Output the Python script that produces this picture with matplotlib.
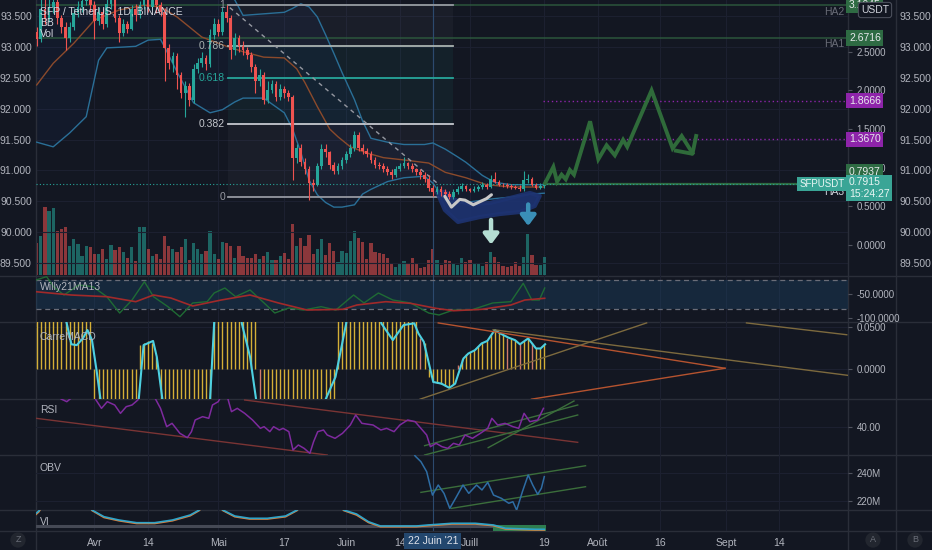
import matplotlib
matplotlib.use('Agg')
import matplotlib.pyplot as plt
from matplotlib.lines import Line2D
from matplotlib.patches import Polygon
from matplotlib.transforms import blended_transform_factory

plt.rcParams['font.family'] = ['Liberation Sans', 'DejaVu Sans']

# ---------------- data: day 0 = 18 Mar 2021, daily candles up to 19 Jul 2021 ----------------
days = list(range(124))
opens = [2.76, 2.66, 3.05, 2.92, 3.08, 3.14, 2.94, 2.82, 2.68, 2.82, 3.00, 3.08, 3.16, 3.22, 3.10, 2.90, 3.02, 2.86, 3.12, 3.20,
         2.94, 2.74, 2.86, 2.80, 3.05, 2.98, 3.10, 3.18, 3.08, 3.18, 3.10, 3.02, 2.55, 2.36, 2.44, 2.20, 1.96, 2.06, 1.88, 2.28,
         2.36, 2.42, 2.34, 2.72, 2.86, 2.76, 3.02, 2.94, 2.52, 2.68, 2.58, 2.52, 2.46, 2.30, 2.12, 2.20, 1.88, 2.00, 2.08, 1.92,
         2.02, 1.96, 1.92, 1.12, 1.26, 1.08, 0.98, 0.80, 0.78, 1.02, 1.24, 1.20, 1.04, 0.96, 1.02, 1.10, 1.18, 1.26, 1.42, 1.26,
         1.22, 1.18, 1.10, 1.04, 1.02, 0.98, 0.94, 0.90, 0.98, 1.02, 1.06, 1.02, 0.98, 0.94, 0.90, 0.86, 0.74, 0.68, 0.72, 0.68,
         0.66, 0.62, 0.68, 0.72, 0.76, 0.72, 0.70, 0.72, 0.75, 0.78, 0.75, 0.86, 0.82, 0.78, 0.77, 0.76, 0.75, 0.74, 0.72, 0.84,
         0.86, 0.78, 0.74, 0.76]
closes = [2.66, 3.05, 2.92, 3.08, 3.14, 2.94, 2.82, 2.68, 2.82, 3.00, 3.08, 3.16, 3.22, 3.10, 2.90, 3.02, 2.86, 3.12, 3.20, 2.94,
          2.74, 2.86, 2.80, 3.05, 2.98, 3.10, 3.18, 3.08, 3.18, 3.10, 3.02, 2.55, 2.36, 2.44, 2.20, 1.96, 2.06, 1.88, 2.28, 2.36,
          2.42, 2.34, 2.72, 2.86, 2.76, 3.02, 2.94, 2.52, 2.68, 2.58, 2.52, 2.46, 2.30, 2.12, 2.20, 1.88, 2.00, 2.08, 1.92, 2.02,
          1.96, 1.92, 1.12, 1.26, 1.08, 0.98, 0.80, 0.78, 1.02, 1.24, 1.20, 1.04, 0.96, 1.02, 1.10, 1.18, 1.26, 1.42, 1.26, 1.22,
          1.18, 1.10, 1.04, 1.02, 0.98, 0.94, 0.90, 0.98, 1.02, 1.06, 1.02, 0.98, 0.94, 0.90, 0.86, 0.74, 0.68, 0.72, 0.68, 0.66,
          0.62, 0.68, 0.72, 0.76, 0.72, 0.70, 0.72, 0.75, 0.78, 0.75, 0.86, 0.82, 0.78, 0.77, 0.76, 0.75, 0.74, 0.72, 0.84, 0.86,
          0.78, 0.74, 0.76, 0.79]
highs = [2.82, 3.18, 3.20, 3.22, 3.28, 3.18, 2.98, 2.88, 2.88, 3.06, 3.15, 3.25, 3.30, 3.26, 3.15, 3.08, 3.06, 3.20, 3.30, 3.24,
         2.98, 2.92, 2.90, 3.10, 3.12, 3.16, 3.26, 3.22, 3.26, 3.24, 3.14, 3.06, 2.60, 2.50, 2.48, 2.24, 2.12, 2.10, 2.34, 2.42,
         2.50, 2.46, 2.80, 2.94, 2.92, 3.08, 3.10, 2.98, 2.74, 2.72, 2.64, 2.56, 2.50, 2.34, 2.28, 2.24, 2.12, 2.14, 2.12, 2.08,
         2.06, 2.00, 1.94, 1.30, 1.30, 1.12, 1.02, 0.86, 1.06, 1.30, 1.30, 1.22, 1.08, 1.06, 1.14, 1.22, 1.30, 1.48, 1.46, 1.30,
         1.26, 1.22, 1.14, 1.08, 1.06, 1.02, 0.98, 1.02, 1.06, 1.14, 1.08, 1.06, 1.00, 0.98, 0.94, 0.90, 0.78, 0.76, 0.76, 0.72,
         0.70, 0.72, 0.76, 0.80, 0.78, 0.74, 0.76, 0.78, 0.82, 0.80, 0.90, 0.94, 0.84, 0.80, 0.80, 0.79, 0.78, 0.78, 0.96, 0.92,
         0.88, 0.80, 0.80, 0.84]
lows = [2.58, 2.62, 2.86, 2.88, 3.00, 2.86, 2.74, 2.52, 2.62, 2.78, 2.95, 3.02, 3.10, 3.02, 2.66, 2.84, 2.80, 2.82, 3.05, 2.88,
        2.62, 2.70, 2.74, 2.78, 2.90, 2.94, 3.05, 3.02, 3.04, 3.00, 2.96, 2.12, 2.28, 2.24, 2.02, 1.90, 1.66, 1.80, 1.84, 2.22,
        2.30, 2.26, 2.30, 2.66, 2.70, 2.72, 2.88, 2.40, 2.46, 2.50, 2.46, 2.40, 2.24, 1.96, 2.06, 1.82, 1.84, 1.96, 1.86, 1.88,
        1.90, 1.86, 0.84, 1.06, 1.02, 0.92, 0.58, 0.70, 0.76, 0.98, 1.14, 0.98, 0.92, 0.92, 0.98, 1.06, 1.14, 1.22, 1.22, 1.18,
        1.14, 1.06, 1.00, 0.98, 0.94, 0.90, 0.86, 0.88, 0.96, 1.00, 0.98, 0.94, 0.90, 0.86, 0.82, 0.70, 0.64, 0.66, 0.64, 0.62,
        0.60, 0.60, 0.66, 0.70, 0.70, 0.68, 0.68, 0.70, 0.73, 0.72, 0.74, 0.80, 0.76, 0.75, 0.74, 0.73, 0.72, 0.70, 0.70, 0.80,
        0.76, 0.72, 0.72, 0.74]
volume = [32, 39, 68, 64, 67, 44, 46, 48, 29, 36, 31, 19, 29, 28, 21, 21, 26, 16, 30, 25,
          28, 23, 17, 28, 14, 48, 48, 26, 19, 21, 16, 39, 29, 26, 23, 28, 36, 15, 32, 26,
          21, 24, 44, 21, 16, 33, 32, 29, 17, 29, 19, 17, 17, 21, 16, 19, 23, 15, 15, 19,
          22, 16, 51, 29, 37, 29, 40, 21, 26, 36, 20, 32, 24, 13, 24, 22, 34, 44, 37, 33,
          16, 32, 23, 22, 21, 17, 12, 8, 11, 14, 11, 17, 11, 7, 8, 15, 26, 15, 10, 15,
          14, 11, 10, 17, 13, 15, 11, 11, 9, 13, 23, 18, 13, 9, 8, 9, 13, 9, 18, 41,
          20, 10, 10, 18]

# Bollinger bands and basis
bb_day = [0, 4, 8, 12, 15, 17, 21, 24, 27, 30, 31, 34, 38, 42, 45, 48, 50, 55, 60, 62, 64, 66, 68, 70, 72, 74, 77, 79, 81, 85,
          89, 94, 96, 99, 102, 104, 108, 111, 115, 120, 123]
bb_upper = [3.50, 3.52, 3.55, 3.55, 3.55, 3.55, 3.55, 3.52, 3.50, 3.48, 3.48, 3.45, 3.42, 3.35, 3.28, 3.17, 2.97, 2.99, 3.01,
            3.06, 3.12, 3.08, 2.95, 2.72, 2.48, 2.23, 1.88, 1.60, 1.38, 1.33, 1.30, 1.30, 1.32, 1.24, 1.14, 1.07, 0.90, 0.81,
            0.78, 0.78, 0.78]
bb_lower = [1.33, 1.27, 1.45, 1.66, 2.39, 2.55, 2.56, 2.57, 2.65, 2.66, 2.56, 2.24, 1.84, 1.71, 1.75, 1.85, 1.90, 1.90, 1.71,
            1.50, 1.20, 0.84, 0.65, 0.55, 0.49, 0.49, 0.52, 0.66, 0.72, 0.82, 0.87, 0.89, 0.80, 0.58, 0.54, 0.55, 0.58, 0.60,
            0.62, 0.66, 0.67]
ma_day = [0, 4, 9, 14, 20, 26, 30, 34, 37, 40, 43, 46, 50, 55, 60, 63, 65, 68, 71, 73, 76, 80, 84, 89, 95, 99, 104, 109, 115, 123]
ma_val = [2.07, 2.35, 2.61, 2.91, 3.04, 3.10, 3.08, 2.95, 2.82, 2.69, 2.63, 2.57, 2.50, 2.43, 2.42, 2.28, 2.10, 1.79, 1.50, 1.40,
          1.27, 1.19, 1.13, 1.10, 1.06, 0.94, 0.87, 0.78, 0.75, 0.75]

# fibonacci retracement (high on 3 May, low on 22-26 Jun)
fib_start, fib_end = 46.4, 100.9
fib_high, fib_low = 3.105, 0.621
fib_levels = [1, 0.786, 0.618, 0.382, 0]
trend_day = [46.8, 97.5]
trend_val = [3.07, 0.78]

# horizontal levels on the right scale
ha_names = ['HA2', 'HA1', 'HA3']
ha_prices = [3.1045, 2.6716, 0.7937]
purple_prices = [1.8666, 1.3670]
last_price = 0.7915

# hand drawn projection and marks
proj_day = [123.2, 125.2, 126.1, 127.2, 128.2, 129.2, 130.2, 134.1, 136.1, 138.1, 140.1, 142.1, 143.1, 149.0, 154.1, 156.3, 158.9]
proj_val = [0.80, 1.01, 0.82, 0.91, 0.85, 0.97, 0.91, 1.60, 1.11, 1.29, 1.16, 1.36, 1.27, 2.00, 1.25, 1.41, 1.19]
tail_day = [154.9, 158.9, 159.8]
tail_val = [1.22, 1.18, 1.41]
squig_day = [98.9, 100.5, 102.5, 103.8, 105.8, 107.4, 109.0, 110.2]
squig_val = [0.63, 0.49, 0.59, 0.58, 0.52, 0.56, 0.60, 0.65]
blob_day = [97.0, 98.9, 102.1, 107.4, 112.3, 117.1, 120.7, 121.9, 119.5, 114.7, 109.8, 105.0, 101.4, 98.9]
blob_val = [0.686, 0.453, 0.298, 0.362, 0.401, 0.427, 0.505, 0.634, 0.673, 0.608, 0.543, 0.530, 0.582, 0.686]

# Williams %R (21) and its MA (13)
willy_day = [-0.2, 2.4, 4.1, 6.6, 10.2, 13.6, 17.0, 20.1, 23.1, 26.1, 28.3, 31.8, 34.7, 37.8, 41.3, 43.0, 45.6, 48.2, 51.7, 55.1,
             57.7, 61.1, 64.7, 68.9, 72.5, 76.8, 79.3, 82.8, 86.3, 90.6, 95.0, 97.5, 101.0, 105.3, 110.5, 114.9, 117.9, 120.0,
             121.8, 123.1]
willy_val = [-20.2, -13.3, -34.2, -51.5, -30.6, -34.2, -55, -89, -61.9, -23.8, -55, -75.8, -96.7, -68.1, -65.4, -47.3, -36.9,
             -55, -41, -68.1, -89, -78.5, -82.7, -75.8, -82.7, -51.5, -68.1, -47.3, -61.9, -68.1, -89, -93.1, -82.7, -82.7,
             -68.1, -65.4, -27.1, -61.9, -61.9, -36.9]
wma_day = [-0.2, 8.4, 17.0, 24.0, 28.3, 32.5, 37.8, 44.7, 51.7, 58.6, 65.5, 74.2, 77.6, 84.6, 90.6, 96.7, 101.0, 107.9, 114.9,
           118.3, 123.1]
wma_val = [-44.6, -51.5, -55, -65.4, -51.5, -57.7, -74.4, -61.9, -51.5, -68.1, -82.7, -81.3, -72.3, -65.4, -68.8, -79.2, -84.2,
           -81.3, -72.3, -61.9, -58.3]

# CarreMACD histogram (daily) and line
macd_hist = [0.06, 0.06, 0.06, 0.06, 0.06, 0.06, 0.06, 0.06, 0.06, 0.06, 0.06, 0.06, 0.06, 0.06,
             -0.045, -0.045, -0.045, -0.045, -0.045, -0.045, -0.045, -0.045, -0.045, -0.045, -0.045,
             0.028, 0.030, 0.033, 0.030, 0.014,
             -0.045, -0.045, -0.045, -0.045, -0.045, -0.045, -0.045, -0.045, -0.045, -0.045, -0.045, -0.045, -0.045,
             0.06, 0.06, 0.06, 0.06, 0.06, 0.06, 0.06, 0.06, 0.06, 0.06, 0.06,
             -0.045, -0.045, -0.045, -0.045, -0.045, -0.045, -0.045, -0.045, -0.045, -0.045, -0.045, -0.045, -0.045,
             -0.045, -0.045, -0.045, -0.045, -0.045, -0.045,
             0.06, 0.06, 0.06, 0.06, 0.06, 0.06, 0.06, 0.06, 0.06, 0.06, 0.06, 0.06, 0.06, 0.06, 0.06, 0.06, 0.06, 0.06,
             0.06, 0.06, 0.036, 0.030,
             -0.010, -0.016, -0.017, -0.018, -0.021, -0.023, -0.018,
             0.004, 0.012, 0.017, 0.020, 0.022, 0.027, 0.031, 0.033, 0.040, 0.046, 0.042, 0.040, 0.037, 0.036, 0.034,
             0.030, 0.033, 0.036, 0.030, 0.024, 0.024, 0.029]
macd_day = [-0.2, 6.5, 7.1, 8.4, 9.7, 11.2, 12.3, 13.4, 14.5, 15.5, 16.2, 24.0, 24.7, 25.9, 28.2, 29.1, 30.5, 31.2, 41.3, 42.0,
            43.0, 43.6, 49.1, 49.7, 51.7, 53.2, 53.9, 69.2, 69.9, 72.4, 75.0, 75.6, 82.9, 83.5, 86.3, 88.9, 91.5, 92.5, 93.8,
            96.1, 98.1, 100.0, 101.4, 103.4, 104.6, 106.2, 107.8, 109.2, 111.0, 112.3, 114.3, 115.9, 117.1, 119.1, 121.0,
            122.1, 123.2]
macd_val = [0.09, 0.09, 0.058, 0.029, 0.028, 0.036, 0.046, 0.034, -0.002, -0.038, -0.07, -0.07, -0.038, 0.028, 0.033, 0.014,
            -0.038, -0.07, -0.07, -0.038, 0.054, 0.09, 0.09, 0.054, 0.014, -0.038, -0.07, -0.07, -0.038, -0.010, 0.054, 0.09,
            0.09, 0.054, 0.034, 0.052, 0.054, 0.042, 0.032, -0.016, -0.018, -0.023, -0.018, 0.012, 0.018, 0.022, 0.030, 0.033,
            0.046, 0.042, 0.037, 0.034, 0.029, 0.036, 0.024, 0.024, 0.029]
# triangle lines drawn on the MACD pane: (day0, val0, day1, val1)
macd_red_lines = [(97.3, 0.0545, 166.8, 0.0004), (119.9, -0.0365, 166.8, 0.0004)]
macd_tan_lines = [(92.9, -0.0365, 147.8, 0.0545), (110.6, 0.0464, 197.1, -0.0084), (172.0, 0.0545, 196.3, 0.0404)]

# RSI
rsi_day = [-0.2, 2.0, 4.5, 5.9, 7.3, 8.3, 9.5, 12.5, 14.1, 15.7, 17.1, 18.9, 20.3, 21.7, 23.1, 24.5, 25.5, 27.5, 28.7, 30.0,
           31.5, 32.8, 34.7, 36.5, 37.5, 38.4, 40.2, 41.7, 42.6, 44.0, 44.4, 45.2, 45.8, 46.3, 47.2, 48.6, 50.4, 52.3, 54.2,
           55.1, 56.5, 57.4, 58.8, 59.7, 61.1, 62.1, 63.4, 64.8, 66.2, 67.1, 68.1, 69.5, 70.4, 72.3, 74.1, 76.0, 77.3, 78.8,
           81.5, 83.4, 84.8, 86.6, 88.0, 89.9, 91.7, 93.1, 94.5, 95.4, 96.8, 98.2, 99.6, 101.0, 102.4, 103.8, 105.6, 107.5,
           109.3, 110.3, 111.7, 113.5, 115.4, 116.8, 118.1, 119.5, 121.4, 122.8]
rsi_val = [62, 66, 61, 56.6, 55.0, 57.0, 62, 64, 57.0, 51.0, 55.0, 53.0, 48.0, 52.0, 53.0, 56.0, 61, 62, 57.0, 51.0,
           40.0, 42.0, 36.0, 33.4, 37.0, 44.0, 46.0, 45.0, 53.0, 55.0, 57.0, 60, 60, 57.0, 49.0, 51.0, 48.0, 44.0, 39.0, 40.0,
           37.0, 40.0, 38.0, 39.0, 37.0, 26.0, 29.0, 27.0, 24.0, 31.0, 37.0, 38.0, 35.0, 33.0, 36.0, 41.0, 47.0, 42.0, 41.0,
           38.0, 39.0, 37.0, 41.0, 44.0, 43.0, 39.0, 35.0, 28.0, 30.0, 28.0, 27.0, 30.0, 29.0, 35.0, 33.0, 36.0, 39.0, 45.0,
           41.0, 42.0, 40.0, 39.0, 48.0, 43.0, 44.0, 51.0]
rsi_red_lines = [(-0.1, 45.0, 70.4, 23.0), (50.4, 56.0, 131.1, 30.6)]
rsi_green_lines = [(94.0, 28.6, 131.1, 53.0), (94.0, 23.0, 131.1, 47.0), (109.4, 27.4, 130.2, 55.4)]

# OBV (millions)
obv_day = [91.0, 91.7, 93.1, 94.5, 95.9, 97.3, 98.7, 100.1, 101.5, 103.3, 104.7, 106.6, 107.9, 109.3, 110.7, 112.6, 114.4,
           115.4, 116.3, 117.7, 119.1, 120.2, 121.4, 122.3, 123.0]
obv_val = [256.0, 251.8, 247.8, 240.7, 224.2, 231.3, 225.4, 214.8, 221.9, 231.3, 225.4, 231.3, 227.8, 233.2, 224.2, 221.9,
           218.4, 219.5, 213.6, 226.6, 238.4, 231.3, 224.7, 229.0, 237.2]
obv_lines = [(93.1, 226.1, 133.0, 244.9), (100.5, 214.8, 133.0, 230.1)]

# Vortex indicator
vi_day = [-0.2, 0.5, 1.5, 12.5, 13.4, 16.3, 19.9, 24.2, 28.6, 32.9, 37.2, 39.4, 40.5, 44.0, 45.1, 48.0, 51.6, 55.9, 60.3,
          63.1, 64.2, 73.3, 74.4, 77.5, 80.4, 83.3, 92.0, 94.8, 100.6, 106.3, 110.7, 113.6, 120.8, 123.0]
vi_plus = [1.13, 1.18, 1.30, 1.30, 1.20, 1.066, 1.00, 0.946, 0.946, 1.00, 1.10, 1.20, 1.30, 1.30, 1.20, 1.08, 1.034, 1.034,
           1.08, 1.20, 1.30, 1.30, 1.20, 1.12, 0.966, 0.88, 0.88, 0.90, 0.934, 0.934, 0.90, 0.834, 0.814, 0.814]
vi_minus = [1.11, 1.16, 1.30, 1.30, 1.19, 1.05, 0.985, 0.93, 0.93, 0.985, 1.085, 1.19, 1.30, 1.30, 1.19, 1.065, 1.02, 1.02,
            1.065, 1.19, 1.30, 1.30, 1.19, 1.10, 0.95, 0.866, 0.866, 0.886, 0.92, 0.92, 0.886, 0.82, 0.80, 0.80]

tick_days = [14, 27, 44, 60, 75, 88, 105, 123, 136, 151, 167, 180]
tick_labels = ['Avr', '14', 'Mai', '17', 'Juin', '14', 'Juill', '19', 'Août', '16', 'Sept', '14']
cross_day = 96

# ---------------- style ----------------
W, H = 932, 550
BG = '#131722'
GRID = '#1c2030'
SEP = '#2a2e39'
TXT = '#b2b5be'
UP = '#26a69a'
DN = '#ef5350'
X0, X1 = 36, 848
XLIM = (-0.17, 196.6)

fig = plt.figure(figsize=(W / 100, H / 100), dpi=100, facecolor=BG)


def rect(top, bot):
    return [X0 / W, 1 - bot / H, (X1 - X0) / W, (bot - top) / H]


def pane(top, bot, ylim, z=2):
    ax = fig.add_axes(rect(top, bot), zorder=z)
    ax.set_facecolor('none')
    ax.set_xlim(XLIM)
    ax.set_ylim(ylim)
    for s in ax.spines.values():
        s.set_visible(False)
    ax.tick_params(axis='x', length=0, labelbottom=False)
    ax.yaxis.tick_right()
    ax.tick_params(axis='y', colors=TXT, labelsize=7, length=3, width=0.8, pad=3)
    ax.tick_params(axis='y', color='#50535e')
    return ax


def ftxt(x, y, s, **kw):
    kw.setdefault('fontsize', 7.5)
    kw.setdefault('color', TXT)
    kw.setdefault('va', 'center')
    fig.text(x / W, 1 - y / H, s, **kw)


# ---- main pane ----
main_lim = (-0.401, 3.169)
outer_lim = (89.796 + 1.2488 * main_lim[0], 89.796 + 1.2488 * main_lim[1])
outer_ticks = [89.5, 90.0, 90.5, 91.0, 91.5, 92.0, 92.5, 93.0, 93.5]
outer_labels = ['89.500', '90.000', '90.500', '91.000', '91.500', '92.000', '92.500', '93.000', '93.500']

axv = pane(0, 276, (-1, 275), z=1)
axv.set_yticks([])
for d in tick_days:
    axv.axvline(d, color=GRID, lw=0.8, zorder=0)
axv.axvline(cross_day, color='#2c4a6e', lw=0.8, zorder=0)
cols = [UP if c >= o else DN for o, c in zip(opens, closes)]
axv.bar(days, volume, width=0.78, color=cols, alpha=0.55, lw=0)

# outer scale (right and left)
axo = pane(0, 276, outer_lim, z=1)
axo.set_yticks(outer_ticks)
axo.set_yticklabels(outer_labels)
axo.tick_params(axis='y', length=0, pad=37, labelsize=7.5)
for v in outer_ticks:
    axo.axhline(v, color=GRID, lw=0.8, zorder=0)
axl = pane(0, 276, outer_lim, z=1)
axl.yaxis.tick_left()
axl.set_yticks(outer_ticks)
axl.set_yticklabels(outer_labels)
axl.tick_params(axis='y', length=0, pad=3, labelsize=7.5)

ax = pane(0, 276, main_lim, z=3)
ax.set_yticks([0, 0.5, 1.0, 1.5, 2.0, 2.5])
ax.set_yticklabels(['0.0000', '0.5000', '1.0000', '1.5000', '2.0000', '2.5000'])

# bollinger
ax.fill_between(bb_day, bb_lower, bb_upper, color='#2962ff', alpha=0.045, lw=0, zorder=1)
ax.plot(bb_day, bb_upper, color='#2a6f97', lw=1, zorder=2)
ax.plot(bb_day, bb_lower, color='#2a6f97', lw=1, zorder=2)
ax.plot(ma_day, ma_val, color='#8b4a2b', lw=1, zorder=2)

# fibonacci
fib_cols = ['#9598a1', '#aab3b1', '#26a69a', '#c5c8ce', '#9598a1']
fib_fill = ['#787b86', '#26a69a', '#26a69a', '#787b86']
fib_p = [fib_low + L * (fib_high - fib_low) for L in fib_levels]
for i in range(4):
    ax.fill_between([fib_start, fib_end], fib_p[i + 1], fib_p[i], color=fib_fill[i], alpha=0.07, lw=0, zorder=1)
for L, p, c in zip(fib_levels, fib_p, fib_cols):
    ax.plot([fib_start, fib_end], [p, p], color=c, lw=1.3, zorder=2)
    lab = '1' if L == 1 else ('0' if L == 0 else '%.3f' % L)
    ax.text(fib_start - 0.8, p, lab, color=c, fontsize=7.5, ha='right', va='center', zorder=6)
ax.plot(trend_day, trend_val, color='#9598a1', lw=1, ls=(0, (3, 3)), zorder=2)

# horizontal levels
for nm, p in zip(ha_names, ha_prices):
    if nm == 'HA3':
        ax.plot([123, XLIM[1]], [p, p], color='#2f6a40', lw=1.6, zorder=2)
    else:
        ax.axhline(p, color='#2f5e3f', lw=1.2, alpha=0.8, zorder=1)
for p in purple_prices:
    ax.plot([122.8, XLIM[1]], [p, p], color='#8e24aa', lw=1, ls=(0, (1, 2)), zorder=2)
ax.axhline(last_price, color=UP, lw=0.8, ls=(0, (1, 2)), zorder=2)

# hand drawn marks
ax.add_patch(Polygon(list(zip(blob_day, blob_val)), closed=True, fc='#1e3371', ec='#1e3371', lw=3,
                     joinstyle='round', alpha=0.9, zorder=2))
ax.plot(squig_day, squig_val, color='#c8c8c8', lw=2.2, solid_capstyle='round', zorder=6)
ax.plot(proj_day, proj_val, color='#2f6b3a', lw=2.8, solid_joinstyle='miter', zorder=6)
ax.plot(tail_day, tail_val, color='#2f6b3a', lw=2.8, zorder=6)
ax.annotate('', xy=(110.1, -0.03), xytext=(110.1, 0.36),
            arrowprops=dict(arrowstyle='-|>,head_width=0.45,head_length=0.6', color='#b4ddd3', lw=3.2), zorder=7)
ax.annotate('', xy=(119.1, 0.21), xytext=(119.1, 0.56),
            arrowprops=dict(arrowstyle='-|>,head_width=0.45,head_length=0.6', color='#3a8fb7', lw=3.2), zorder=7)

# candles
ax.vlines(days, lows, highs, colors=cols, lw=0.8, zorder=4)
ax.bar(days, [max(abs(c - o), 0.01) for o, c in zip(opens, closes)],
       bottom=[min(o, c) for o, c in zip(opens, closes)], width=0.66, color=cols, lw=0, zorder=5)
ax.axvline(cross_day, color='#2c4a6e', lw=0.8, zorder=1)

# ---- Willy pane ----
aw = pane(276, 322, (-107.7, -11.9))
aw.set_yticks([-50, -100])
aw.set_yticklabels(['-50.0000', '-100.0000'])
aw.fill_between(XLIM, -80, -20, color='#1e4a6e', alpha=0.35, lw=0)
aw.axhline(-20, color='#6a6d78', lw=0.9, ls=(0, (4, 3)))
aw.axhline(-80, color='#6a6d78', lw=0.9, ls=(0, (4, 3)))
aw.plot(willy_day, willy_val, color='#1f6b34', lw=1)
aw.plot(wma_day, wma_val, color='#a12a2a', lw=1.2)

# ---- MACD pane ----
am = pane(322, 398.5, (-0.0357, 0.0556))
am.set_yticks([0.05, 0.0])
am.set_yticklabels(['0.0500', '0.0000'])
am.axhline(0.05, color=GRID, lw=0.8, zorder=0)
am.axhline(0.0, color=GRID, lw=0.8, zorder=0)
hcols = ['#d4af37' if i == 0 or abs(macd_hist[i]) >= abs(macd_hist[i - 1]) or i % 3 else '#cf7b6b'
         for i in range(len(macd_hist))]
am.vlines(days, 0, macd_hist, colors=hcols, lw=1.0, zorder=2)
am.plot(macd_day, macd_val, color='#4dd0e1', lw=1.5, zorder=3)
for x0, y0, x1, y1 in macd_red_lines:
    am.plot([x0, x1], [y0, y1], color='#b5532f', lw=1, zorder=3)
for x0, y0, x1, y1 in macd_tan_lines:
    am.plot([x0, x1], [y0, y1], color='#7d6a3e', lw=1, zorder=3)

# ---- RSI pane ----
ar = pane(398.5, 455, (23.0, 56.9))
ar.set_yticks([40])
ar.set_yticklabels(['40.00'])
ar.axhline(40, color=GRID, lw=0.8, zorder=0)
for x0, y0, x1, y1 in rsi_red_lines:
    ar.plot([x0, x1], [y0, y1], color='#7a3434', lw=1, zorder=2)
for x0, y0, x1, y1 in rsi_green_lines:
    ar.plot([x0, x1], [y0, y1], color='#3b6e3b', lw=1, zorder=2)
ar.plot(rsi_day, rsi_val, color='#7e2a9e', lw=1.1, zorder=3)

# ---- OBV pane ----
ab = pane(455, 509.5, (214.0, 252.5))
ab.set_yticks([240, 220])
ab.set_yticklabels(['240M', '220M'])
ab.axhline(240, color=GRID, lw=0.8, zorder=0)
ab.axhline(220, color=GRID, lw=0.8, zorder=0)
for x0, y0, x1, y1 in obv_lines:
    ab.plot([x0, x1], [y0, y1], color='#3b6e3b', lw=1, zorder=2)
ab.plot(obv_day, obv_val, color='#2e6da4', lw=1.1, zorder=3)

# ---- VI pane ----
av = pane(509.5, 531, (0.78, 1.21))
av.set_yticks([])
av.plot([0, 123], [0.88, 0.88], color='#454955', lw=2.2, zorder=1)
av.fill_between([110.6, 123.4], 0.78, 0.905, color='#2e7d4f', lw=0, zorder=1)
av.plot(vi_day, vi_minus, color='#e0803a', lw=1.2, zorder=2)
av.plot(vi_day, vi_plus, color='#2fa4c9', lw=1.2, zorder=3)
av.set_xticks(tick_days)
av.set_xticklabels(tick_labels)
av.tick_params(axis='x', labelbottom=True, length=0, pad=5, labelsize=7.5, colors=TXT)
bt = blended_transform_factory(av.transData, av.transAxes)
av.text(cross_day, -0.45, "22 Juin '21", transform=bt, ha='center', va='center', fontsize=7.5, color='#e0e3eb',
        bbox=dict(boxstyle='square,pad=0.3', fc='#23476e', ec='none'), zorder=10, clip_on=False)

for a in [aw, am, ar, ab, av]:
    for d in tick_days:
        a.axvline(d, color=GRID, lw=0.8, zorder=0)
    a.axvline(cross_day, color='#2c4a6e', lw=0.8, zorder=1)

# ---- separators ----
for y in [276, 322, 398.5, 455, 509.5, 531]:
    fig.add_artist(Line2D([0, 1], [1 - y / H, 1 - y / H], transform=fig.transFigure, color=SEP, lw=1))
for x in [X0, X1, 896]:
    fig.add_artist(Line2D([x / W, x / W], [0, 1], transform=fig.transFigure, color=SEP, lw=1))

# ---- legend / pane titles ----
ftxt(40, 12, 'SFP / TetherUS, 1D, BINANCE', color='#d1d4dc')
ftxt(40, 23, 'BB', color='#d1d4dc')
ftxt(40, 34, 'Vol', color='#d1d4dc')
ftxt(40, 287, 'Willy21MA13')
ftxt(40, 337, 'CarreMACD')
ftxt(40, 410, 'RSI')
ftxt(40, 468, 'OBV')
ftxt(40, 522, 'VI')


# ---- price tags on the right scale ----
def tag(y, s, fc, tc='#e8eaed', x=849):
    ftxt(x, y, s, fontsize=7.5, color=tc, ha='left', zorder=10,
         bbox=dict(boxstyle='square,pad=0.25', fc=fc, ec='none'))


tag(5, '3.1045', '#2e6b43')
ftxt(861, 10, 'USDT', fontsize=7.5, color='#d1d4dc', ha='left', zorder=11,
     bbox=dict(boxstyle='round,pad=0.25', fc=BG, ec='#4a4e5a', lw=0.8))
tag(38, '2.6716', '#2e6b43')
tag(100.6, '1.8666', '#8e24aa')
tag(139.5, '1.3670', '#8e24aa')
tag(172, '0.7937', '#2e6b43')
tag(188, '0.7915\n15:24:27', '#3aa596', tc='#e8f5f3')
ftxt(845, 184, 'SFPUSDT', fontsize=7, color='#e8f5f3', ha='right', zorder=10,
     bbox=dict(boxstyle='square,pad=0.25', fc='#3aa596', ec='none'))
ftxt(844, 12, 'HA2', color='#6a6d78', ha='right')
ftxt(844, 44, 'HA1', color='#6a6d78', ha='right')
ftxt(844, 192, 'HA3', color='#d1d4dc', ha='right', zorder=9)

# ---- bottom buttons ----
for x, s in [(18, 'Z'), (873, 'A'), (915, 'B')]:
    ftxt(x, 540, s, fontsize=6.5, color='#6a6e78', ha='center',
         bbox=dict(boxstyle='circle,pad=0.35', fc='#22262f', ec='none'))

fig.savefig('out.png', dpi=100, facecolor=BG)
